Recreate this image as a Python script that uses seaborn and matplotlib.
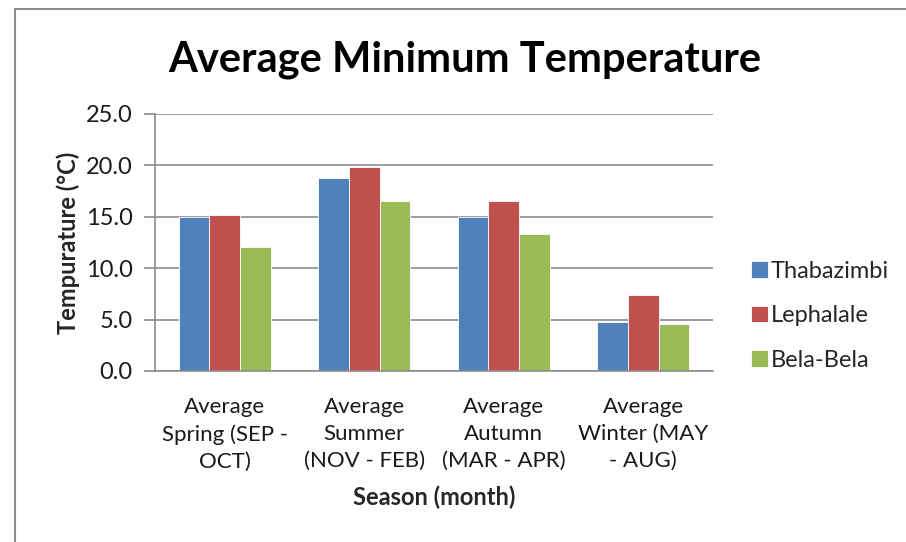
import pandas as pd
import matplotlib.pyplot as plt
import seaborn as sns
from matplotlib.lines import Line2D

# Average minimum temperature per season, three towns
seasons = ["Average\nSpring (SEP -\nOCT)", "Average\nSummer\n(NOV - FEB)",
           "Average\nAutumn\n(MAR - APR)", "Average\nWinter (MAY\n- AUG)"]
towns = ["Thabazimbi", "Lephalale", "Bela-Bela"]
thabazimbi = [15.0, 18.8, 15.0, 4.8]
lephalale = [15.2, 19.8, 16.5, 7.4]
bela_bela = [12.1, 16.5, 13.3, 4.6]
colors = ["#4F81BD", "#C0504D", "#9BBB59"]

df = pd.DataFrame({
    "Season": seasons * 3,
    "Town": [t for t in towns for _ in seasons],
    "Temp": thabazimbi + lephalale + bela_bela,
})

sns.set_style("white")
plt.rcParams["font.family"] = ["Lato", "DejaVu Sans"]

fig = plt.figure(figsize=(9.06, 5.42), dpi=100)
ax = fig.add_axes([0.1711, 0.3155, 0.6159, 0.4742])

sns.barplot(data=df, x="Season", y="Temp", hue="Town", palette=colors,
            saturation=1, width=0.66, edgecolor="white", linewidth=0.6, ax=ax)

ax.set_ylim(0, 25)
ax.set_yticks([0, 5, 10, 15, 20, 25])
ax.set_yticklabels([f"{v:.1f}" for v in [0, 5, 10, 15, 20, 25]])
ax.yaxis.grid(True, color="#8c8c8c", linewidth=1.2)
ax.set_axisbelow(True)
for s in ["top", "right"]:
    ax.spines[s].set_visible(False)
for s in ["left", "bottom"]:
    ax.spines[s].set_color("#8c8c8c")
    ax.spines[s].set_linewidth(1.2)
ax.tick_params(axis="y", left=True, length=8, color="#8c8c8c", width=1.2,
               labelsize=17, labelcolor="#1a1a1a", pad=8)
ax.tick_params(axis="x", bottom=False, labelsize=16, labelcolor="#1a1a1a", pad=15)
for lbl in ax.get_xticklabels():
    lbl.set_linespacing(1.45)

ax.set_xlabel("Season (month)", fontsize=17, fontweight="bold", labelpad=10)
ax.set_ylabel("Tempurature (°C)", fontsize=17, fontweight="bold", labelpad=4)

fig.suptitle("Average Minimum Temperature", fontsize=30, fontweight="bold",
             color="black", x=0.513, y=0.925)

ax.legend(title=None, frameon=False, loc="center left",
          bbox_to_anchor=(1.03, 0.215), fontsize=17, labelspacing=1.0,
          handlelength=0.7, handleheight=0.7, handletextpad=0.15)

# chart border (left and top edges)
fig.add_artist(Line2D([15 / 906, 15 / 906], [0, 1 - 9 / 542],
                      transform=fig.transFigure, color="#8c8c8c", lw=1.5))
fig.add_artist(Line2D([15 / 906, 1], [1 - 9 / 542, 1 - 9 / 542],
                      transform=fig.transFigure, color="#8c8c8c", lw=1.5))

plt.savefig("out.png", dpi=100)
